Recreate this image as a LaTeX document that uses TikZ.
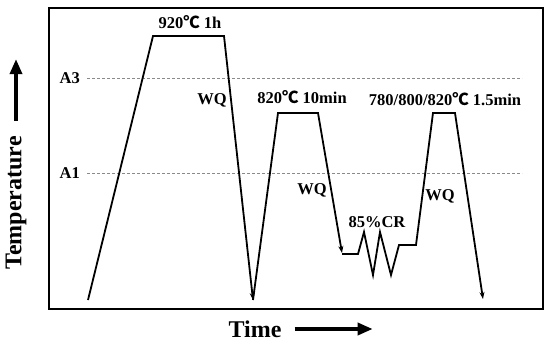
\documentclass[tikz,border=0pt]{standalone}
\usepackage{fontspec}
\setmainfont{Liberation Serif}
\newfontfamily\cjkfont{Noto Sans CJK SC}
\usepackage{tikz}
\usetikzlibrary{arrows.meta, positioning}
\usepackage{xcolor}
\definecolor{limitgray}{HTML}{8A8A8A}
\newcommand{\degc}{{\cjkfont ℃}}

\begin{document}
\begin{tikzpicture}[x=1pt, y=-1pt, >={Stealth[length=7pt, width=5pt]},
    lbl/.style={font=\bfseries\fontsize{16.5}{18}\selectfont, inner sep=0pt},
    axislbl/.style={font=\bfseries\fontsize{24}{26}\selectfont, inner sep=0pt},
    curve/.style={line width=1.8pt, line join=miter},
    axisarrow/.style={line width=3.5pt, -{Triangle[length=15pt, width=12pt]}}]
  \useasboundingbox (0,0) rectangle (550,343);
  % the frame
  \draw[line width=2pt] (49,8) rectangle (543,309);
  % A3 and A1 limits
  \foreach \y/\name in {78/A3, 173/A1}{
    \draw[limitgray, line width=0.8pt, dash pattern=on 3pt off 2pt] (87,\y) -- (522,\y);
    \node[lbl, anchor=east] (\name) at (80,\y) {\name};
  }
  % austenitizing, then intercritical hold, rolling and short anneal
  \draw[curve, ->] (88,300) -- (153,36) -- (224,36) -- (253,300);
  \draw[curve, ->] (253,300) -- (278,113) -- (318,113) -- (342,253);
  \draw[curve, ->] (342,254) -- (358,254) -- (364,232) -- (373,275) -- (380,232)
    -- (391,275) -- (399,245) -- (416,245) -- (433,113) -- (455,113) -- (483,299);
  \node[lbl] (hold1) at (190,22) {920\degc\ 1h};
  \node[lbl] (wq1) at (212,100) {WQ};
  \node[lbl] (hold2) at (302,97) {820\degc\ 10min};
  \node[lbl] (wq2) at (312,190) {WQ};
  \node[lbl] (cr) at (377,222) {85\%CR};
  \node[lbl] (hold3) at (445,99) {780/800/820\degc\ 1.5min};
  \node[lbl] (wq3) at (440,196) {WQ};
  % axis captions
  \node[axislbl, rotate=90] (temp) at (16,203) {Temperature};
  \draw[axisarrow] ([yshift=15pt]temp.east) -- ++(0,-62);
  \node[axislbl] (time) at (255,329) {Time};
  \draw[axisarrow] ([xshift=13pt]time.east) -- ++(78,0);
\end{tikzpicture}
\end{document}
